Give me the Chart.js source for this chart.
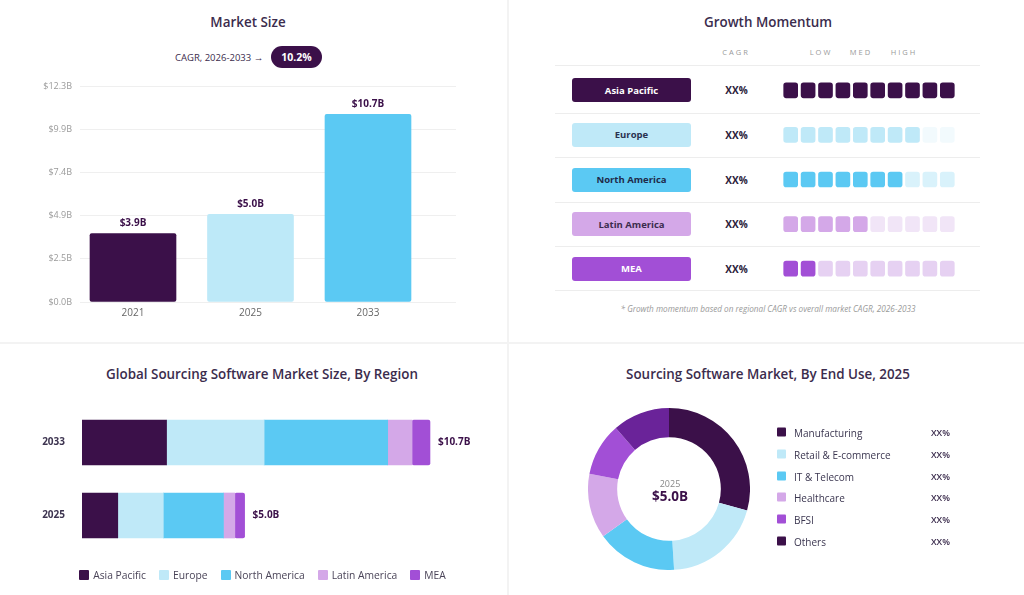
<!DOCTYPE html>
<html><head><meta charset="utf-8">
<script src="https://cdn.jsdelivr.net/npm/chart.js@4.4.1/dist/chart.umd.min.js"></script>
<style>
html,body{margin:0;padding:0;background:#fff;}
body{width:1024px;height:595px;position:relative;overflow:hidden;font-family:'Open Sans',sans-serif;}
.c{position:absolute;transform:translate(-50%,-50%);white-space:nowrap;}
.l{position:absolute;transform:translateY(-50%);white-space:nowrap;}
.title{font-size:13.4px;font-weight:600;color:#3b2c4d;}
canvas{position:absolute;}
.line{position:absolute;background:#ededed;height:1px;}
.hdr{font-size:7.5px;letter-spacing:2px;color:#9a9a9a;}
.pill{position:absolute;left:572px;width:119px;height:24px;border-radius:3px;display:flex;align-items:center;justify-content:center;font-size:9.5px;font-weight:700;transform:translateY(-50%);}
.xx{font-size:10px;font-weight:700;color:#2a1b3a;}
.leg{position:absolute;left:0;width:525px;top:568px;display:flex;justify-content:center;gap:13px;font-size:10.3px;color:#4a4458;}
.leg span.sq{display:inline-block;width:10px;height:10px;border-radius:1px;margin-right:4px;vertical-align:-1px;}
.dl{font-size:10px;color:#3b3650;}
.dsq{position:absolute;width:9px;height:9px;border-radius:1px;transform:translateY(-50%);}
</style></head><body>

<div style="position:absolute;left:507px;top:0;width:2px;height:595px;background:#f3f3f3"></div>
<div style="position:absolute;left:0;top:342px;width:1024px;height:2px;background:#f3f3f3"></div>

<div class="c title" style="left:248px;top:21.5px">Market Size</div>
<div class="l" id="cagrText" style="left:175px;top:57px;font-size:9.5px;color:#3b2c4d"></div>
<div id="cagrPill" style="position:absolute;left:271px;top:46px;width:51px;height:22px;border-radius:11px;background:#3b1049;color:#fff;font-weight:700;font-size:10.5px;display:flex;align-items:center;justify-content:center"></div>
<canvas id="market" width="480" height="253" style="left:0;top:73px"></canvas>

<div class="c title" style="left:768px;top:21.5px">Growth Momentum</div>
<div id="momentumText"></div>
<canvas id="mom" width="174" height="223" style="left:782px;top:68px"></canvas>
<div class="c" id="footnote" style="left:768px;top:308px;font-size:8.2px;font-style:italic;color:#9a9a9a"></div>

<div class="c title" style="left:262px;top:373.5px">Global Sourcing Software Market Size, By Region</div>
<canvas id="region" width="525" height="192" style="left:0;top:383px"></canvas>
<div class="leg" id="regionLegend"></div>

<div class="c title" style="left:768px;top:373.5px">Sourcing Software Market, By End Use, 2025</div>
<canvas id="donut" width="162" height="162" style="left:588px;top:408px"></canvas>
<div class="c" id="donutYear" style="left:670px;top:482.5px;font-size:9px;color:#888"></div>
<div class="c" id="donutTotal" style="left:670px;top:496px;font-size:13.5px;font-weight:700;color:#3b1049"></div>
<div id="donutLegend"></div>

<script>
// ---------- DATA ----------
const marketYears = ['2021', '2025', '2033'];
const marketValues = [3.9, 5.0, 10.7];
const marketValueLabels = ['$3.9B', '$5.0B', '$10.7B'];
const marketTickValues = [0, 2.46, 4.92, 7.38, 9.84, 12.3];
const marketTickLabels = ['$0.0B', '$2.5B', '$4.9B', '$7.4B', '$9.9B', '$12.3B'];
const cagrLabel = 'CAGR, 2026-2033 →';
const cagrValue = '10.2%';

const regions = ['Asia Pacific', 'Europe', 'North America', 'Latin America', 'MEA'];
const regionCagr = ['XX%', 'XX%', 'XX%', 'XX%', 'XX%'];
const momentumLevels = [10, 8, 7, 5, 2];
const momentumCellCount = 10;
const momentumHeaders = ['CAGR', 'LOW', 'MED', 'HIGH'];
const momentumNote = '* Growth momentum based on regional CAGR vs overall market CAGR, 2026-2033';

const regionYears = ['2033', '2025'];
const asiaPacific = [2.6, 1.1];
const europe = [3.0, 1.4];
const northAmerica = [3.8, 1.85];
const latinAmerica = [0.75, 0.35];
const mea = [0.55, 0.3];
const regionTotals = ['$10.7B', '$5.0B'];

const endUses = ['Manufacturing', 'Retail & E-commerce', 'IT & Telecom', 'Healthcare', 'BFSI', 'Others'];
const endUseShares = [29.3, 19.7, 16.1, 12.9, 10.6, 11.4];
const endUseShareLabels = ['XX%', 'XX%', 'XX%', 'XX%', 'XX%', 'XX%'];
const donutYear = '2025';
const donutTotal = '$5.0B';

// ---------- STYLES ----------
const FONT = "'Open Sans', sans-serif";
const marketColors = ['#3b1049', '#bde9f8', '#5bc9f3'];
const regionColors = ['#3b1049', '#bfe9f8', '#5bc9f3', '#d4a8e8', '#a24fd6'];
const fadedColors = ['#e9dff0', '#f2fafd', '#d9f2fb', '#f1e5f7', '#e6d1f2'];
const pillText = ['#ffffff', '#2b3350', '#1f2b4a', '#3b2c4d', '#ffffff'];
const endUseColors = ['#3b1049', '#bfe9f8', '#5bc9f3', '#d4a8e8', '#a24fd6', '#6a2399'];
const endUseLegendColors = ['#3b1049', '#bfe9f8', '#5bc9f3', '#d4a8e8', '#a24fd6', '#3b1049'];

Chart.defaults.font.family = FONT;

// ---------- MARKET SIZE ----------
document.getElementById('cagrText').textContent = cagrLabel;
document.getElementById('cagrPill').textContent = cagrValue;

const marketLabelPlugin = {
  id: 'marketLabels',
  afterDatasetsDraw(chart) {
    const ctx = chart.ctx;
    ctx.save();
    ctx.font = "700 10px " + FONT;
    ctx.fillStyle = '#3b1049';
    ctx.textAlign = 'center';
    ctx.textBaseline = 'middle';
    chart.getDatasetMeta(0).data.forEach((bar, i) => ctx.fillText(marketValueLabels[i], bar.x, bar.y - 10));
    ctx.restore();
  }
};

new Chart(document.getElementById('market'), {
  type: 'bar',
  data: {
    datasets: [{
      data: marketValues.map((v, i) => ({ x: i + 1, y: v })),
      backgroundColor: marketColors,
      barThickness: 86,
      borderRadius: 2,
      borderSkipped: false
    }]
  },
  options: {
    responsive: false, animation: false, events: [],
    layout: { padding: { top: 0, right: 24, bottom: 0, left: 0 } },
    plugins: { legend: { display: false }, tooltip: { enabled: false } },
    scales: {
      x: {
        type: 'linear', min: 0.549, max: 3.749, offset: false, bounds: 'data',
        grid: { display: false, drawTicks: false, offset: false }, border: { display: false },
        afterBuildTicks: s => { s.ticks = marketYears.map((_, i) => ({ value: i + 1 })); },
        ticks: { callback: (v, i) => marketYears[i], color: '#666', font: { size: 10 }, padding: 5, maxRotation: 0 },
        afterFit: s => { s.height = 24; }
      },
      y: {
        min: 0, max: 12.3,
        afterBuildTicks: s => { s.ticks = marketTickValues.map(v => ({ value: v })); },
        ticks: { callback: (v, i) => marketTickLabels[i], color: '#9a9a9a', font: { size: 9 }, padding: 8 },
        grid: { color: '#efefef', drawTicks: false }, border: { display: false },
        afterFit: s => { s.width = 80; }
      }
    }
  },
  plugins: [marketLabelPlugin]
});

// ---------- GROWTH MOMENTUM ----------
const momBox = document.getElementById('momentumText');
const hdrPos = [735, 820, 860, 903];
momentumHeaders.forEach((h, i) => {
  const d = document.createElement('div');
  d.className = 'c hdr'; d.style.left = (hdrPos[i] + 1) + 'px'; d.style.top = '52px'; d.textContent = h;
  momBox.appendChild(d);
});
[65, 113, 157, 201.5, 246, 290].forEach(y => {
  const d = document.createElement('div');
  d.className = 'line'; d.style.left = '555px'; d.style.width = '425px'; d.style.top = y + 'px';
  momBox.appendChild(d);
});
regions.forEach((r, i) => {
  const y = 68 + 44.6 * (i + 0.5);
  const p = document.createElement('div');
  p.className = 'pill'; p.style.top = y + 'px'; p.style.background = regionColors[i]; p.style.color = pillText[i];
  p.textContent = r; momBox.appendChild(p);
  const x = document.createElement('div');
  x.className = 'c xx'; x.style.left = '736.5px'; x.style.top = y + 'px'; x.textContent = regionCagr[i];
  momBox.appendChild(x);
});
document.getElementById('footnote').textContent = momentumNote;

new Chart(document.getElementById('mom'), {
  type: 'bar',
  data: {
    labels: regions,
    datasets: Array.from({ length: momentumCellCount }, (_, c) => ({
      data: regions.map(() => 1),
      backgroundColor: regions.map((r, ri) => c < momentumLevels[ri] ? regionColors[ri] : fadedColors[ri]),
      borderColor: '#ffffff', borderWidth: 1.7, borderSkipped: false,
      borderRadius: { topLeft: 4.5, topRight: 4.5, bottomLeft: 4.5, bottomRight: 4.5 },
      barThickness: 18.4
    }))
  },
  options: {
    indexAxis: 'y', responsive: false, animation: false, events: [],
    layout: { padding: 0 },
    plugins: { legend: { display: false }, tooltip: { enabled: false } },
    scales: {
      x: { stacked: true, display: false, min: 0, max: momentumCellCount },
      y: { stacked: true, display: false }
    }
  }
});

// ---------- REGION STACKED ----------
const regionSeries = [asiaPacific, europe, northAmerica, latinAmerica, mea];
const regionTotalPlugin = {
  id: 'regionTotals',
  afterDatasetsDraw(chart) {
    const ctx = chart.ctx;
    const last = chart.getDatasetMeta(chart.data.datasets.length - 1);
    ctx.save();
    ctx.font = "700 10px " + FONT;
    ctx.fillStyle = '#3b1049';
    ctx.textAlign = 'left';
    ctx.textBaseline = 'middle';
    last.data.forEach((bar, i) => ctx.fillText(regionTotals[i], bar.x + 8, bar.y));
    ctx.restore();
  }
};
new Chart(document.getElementById('region'), {
  type: 'bar',
  data: {
    labels: regionYears,
    datasets: regions.map((r, i) => ({
      label: r, data: regionSeries[i], backgroundColor: regionColors[i],
      barThickness: 45, borderRadius: 2, borderSkipped: false
    }))
  },
  options: {
    indexAxis: 'y', responsive: false, animation: false, events: [],
    layout: { padding: { top: 0, right: 43, bottom: 0, left: 0 } },
    plugins: { legend: { display: false }, tooltip: { enabled: false } },
    scales: {
      x: { stacked: true, display: false, min: 0, max: 12.3 },
      y: {
        stacked: true,
        grid: { display: false, drawTicks: false }, border: { display: false },
        ticks: { color: '#3d3450', font: { size: 10, weight: '700' }, padding: 17 },
        afterFit: s => { s.width = 82; }
      }
    }
  },
  plugins: [regionTotalPlugin]
});
const rl = document.getElementById('regionLegend');
regions.forEach((r, i) => {
  const it = document.createElement('div');
  it.innerHTML = '<span class="sq" style="background:' + regionColors[i] + '"></span>' + r;
  rl.appendChild(it);
});

// ---------- DONUT ----------
new Chart(document.getElementById('donut'), {
  type: 'doughnut',
  data: { labels: endUses, datasets: [{ data: endUseShares, backgroundColor: endUseColors, borderWidth: 0 }] },
  options: {
    responsive: false, animation: false, events: [], cutout: '64%',
    layout: { padding: 0 },
    plugins: { legend: { display: false }, tooltip: { enabled: false } }
  }
});
document.getElementById('donutYear').textContent = donutYear;
document.getElementById('donutTotal').textContent = donutTotal;
const dl = document.getElementById('donutLegend');
endUses.forEach((u, i) => {
  const y = 432.3 + 21.7 * i;
  const sq = document.createElement('div');
  sq.className = 'dsq'; sq.style.left = '777px'; sq.style.top = y + 'px'; sq.style.background = endUseLegendColors[i];
  dl.appendChild(sq);
  const t = document.createElement('div');
  t.className = 'l dl'; t.style.left = '794px'; t.style.top = (y + 1) + 'px'; t.textContent = u;
  dl.appendChild(t);
  const p = document.createElement('div');
  p.className = 'l'; p.style.left = '931px'; p.style.top = y + 'px';
  p.style.fontSize = '9px'; p.style.fontWeight = '600'; p.style.color = '#3b2c4d';
  p.textContent = endUseShareLabels[i];
  dl.appendChild(p);
});
</script>
</body></html>
